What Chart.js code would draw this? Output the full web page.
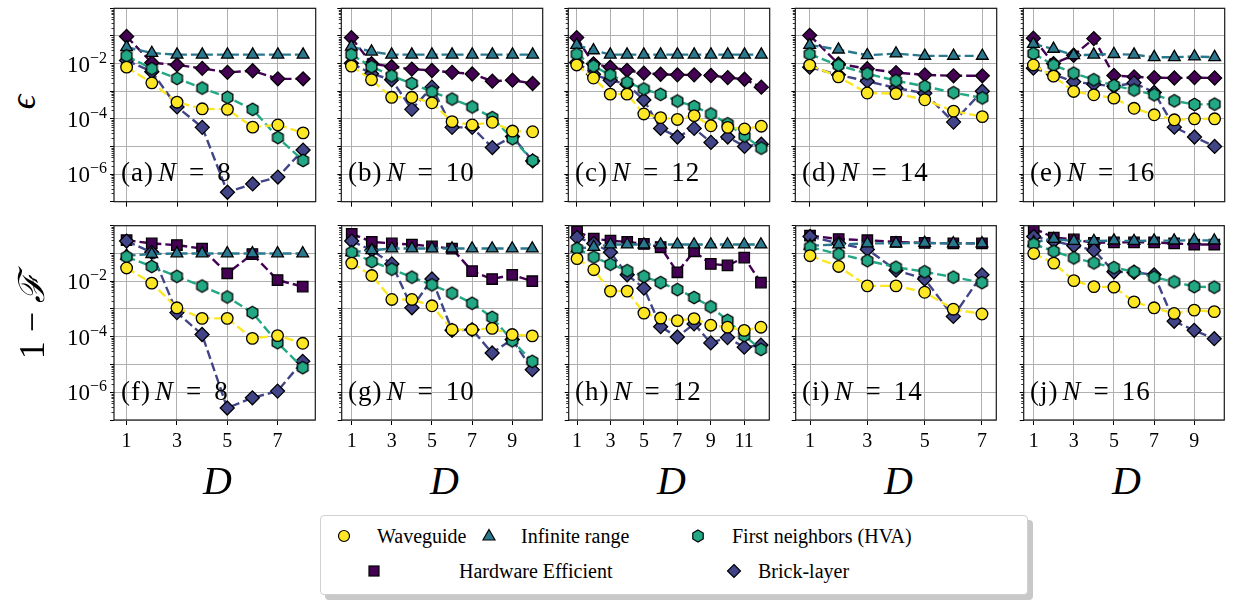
<!DOCTYPE html>
<html>
<head>
<meta charset="utf-8">
<script src="https://cdn.jsdelivr.net/npm/chart.js@4.4.1/dist/chart.umd.min.js"></script>
<style>
  body { margin: 0; width: 1242px; height: 602px; position: relative; overflow: hidden; background: #fff;
         font-family: "Liberation Serif", "DejaVu Serif", serif; color: #000; }
  canvas { position: absolute; }
  .txt { position: absolute; white-space: nowrap; line-height: 1; }
  .tag { font-size: 27px; letter-spacing: 1px; }
  .tag i { margin-left: 4px; }
  .tag .eq { margin: 0 12px 0 12px; }
  .dlab { font-size: 40px; font-style: italic; }
  .legend { position: absolute; left: 320px; top: 515px; width: 706px; height: 78px; background: #fff;
            border: 1px solid #d0d0d0; border-radius: 4px; }
  .shadow { position: absolute; left: 325px; top: 520px; width: 708px; height: 80px; background: #c8c8c8; border-radius: 4px; }
  .item { position: absolute; font-size: 20px; white-space: nowrap; }
  .item svg { position: absolute; }
</style>
</head>
<body>
<script>
const SERIES = ['Waveguide', 'Infinite range', 'First neighbors (HVA)', 'Hardware Efficient', 'Brick-layer'];
const COLORS = ['#fde725', '#2a788e', '#22a884', '#440154', '#414487'];
const systemSizes = [8, 10, 12, 14, 16];
const maxDepth = [8, 10, 12, 7, 10];
const lettersTop = ['a', 'b', 'c', 'd', 'e'];
const lettersBottom = ['f', 'g', 'h', 'i', 'j'];
const depthTicks = [1, 3, 5, 7, 9, 11];
const yLabelExps = [-2, -4, -6];

// epsilon (top row), one list per panel N = 8, 10, 12, 14, 16
const epsWaveguide = [
  [0.0074, 0.002, 4.0e-4, 2.3e-4, 2.2e-4, 5.0e-5, 6.0e-5, 3.1e-5],
  [0.0081, 0.0026, 6.0e-4, 6.0e-4, 3.8e-4, 7.9e-5, 6.0e-5, 7.5e-5, 3.6e-5, 3.4e-5],
  [0.0089, 0.003, 7.8e-4, 7.8e-4, 1.5e-4, 1.1e-4, 9.5e-5, 1.3e-4, 5.6e-5, 4.9e-5, 4.3e-5, 5.4e-5],
  [0.0088, 0.0033, 8.6e-4, 8.2e-4, 4.9e-4, 1.9e-4, 1.2e-4],
  [0.0089, 0.0035, 9.8e-4, 7.4e-4, 5.6e-4, 2.4e-4, 1.4e-4, 9.2e-5, 1.0e-4, 1.0e-4]
];
const epsInfinite = [
  [0.039, 0.024, 0.021, 0.021, 0.021, 0.021, 0.021, 0.021],
  [0.041, 0.027, 0.021, 0.021, 0.021, 0.021, 0.021, 0.021, 0.021, 0.021],
  [0.047, 0.030, 0.021, 0.021, 0.021, 0.021, 0.021, 0.021, 0.021, 0.021, 0.021, 0.021],
  [0.047, 0.032, 0.020, 0.023, 0.019, 0.019, 0.019],
  [0.051, 0.034, 0.020, 0.021, 0.022, 0.021, 0.017, 0.017, 0.018, 0.017]
];
const epsFirst = [
  [0.019, 0.0065, 0.0029, 0.0013, 6.0e-4, 2.2e-4, 2.1e-5, 3.1e-6],
  [0.021, 0.0077, 0.0036, 0.0019, 9.5e-4, 5.2e-4, 2.7e-4, 1.1e-4, 1.9e-5, 3.1e-6],
  [0.022, 0.0081, 0.0039, 0.0021, 0.0012, 7.7e-4, 4.4e-4, 2.8e-4, 1.5e-4, 6.6e-5, 2.4e-5, 8.7e-6],
  [0.022, 0.0087, 0.0043, 0.0024, 0.0015, 8.8e-4, 5.7e-4],
  [0.023, 0.0089, 0.0045, 0.0026, 0.0016, 0.0011, 7.4e-4, 4.5e-4, 3.3e-4, 3.4e-4]
];
const epsHardware = [
  [0.095, 0.0107, 0.0089, 0.0067, 0.0048, 0.0055, 0.0028, 0.0028],
  [0.087, 0.010, 0.0077, 0.0063, 0.0056, 0.0048, 0.0042, 0.0023, 0.0025, 0.0019],
  [0.087, 0.0098, 0.0074, 0.0057, 0.0045, 0.0041, 0.0039, 0.0039, 0.0037, 0.0031, 0.0027, 0.0014],
  [0.105, 0.0097, 0.0065, 0.0047, 0.0039, 0.0036, 0.0036],
  [0.083, 0.010, 0.020, 0.080, 0.0037, 0.0033, 0.0031, 0.0030, 0.0031, 0.0030]
];
const epsBrick = [
  [0.013, 0.0051, 2.7e-4, 4.9e-5, 2.2e-7, 4.4e-7, 7.8e-7, 7.4e-6],
  [0.0102, 0.0043, 0.0026, 2.2e-4, 1.4e-3, 4.9e-5, 4.9e-5, 9.1e-6, 2.3e-5, 3.0e-6],
  [0.011, 0.0041, 0.0025, 0.0018, 4.8e-4, 4.5e-5, 2.2e-5, 4.5e-5, 1.4e-5, 2.2e-5, 1.0e-5, 1.2e-5],
  [0.0074, 0.0039, 0.0023, 0.0013, 8.4e-4, 7.6e-5, 0.001],
  [0.0068, 0.004, 0.0022, 0.0018, 0.0015, 0.002, 9.0e-4, 5.0e-5, 2.2e-5, 1.0e-5]
];

// 1 - F (bottom row)
const infidWaveguide = [
  [0.030, 0.0085, 0.0011, 4.6e-4, 4.6e-4, 8.7e-5, 1.1e-4, 5.8e-5],
  [0.045, 0.016, 0.0022, 0.0022, 0.0013, 1.8e-4, 1.8e-4, 2.0e-4, 1.2e-4, 1.07e-4],
  [0.065, 0.026, 0.0044, 0.0044, 7.1e-4, 4.7e-4, 3.8e-4, 4.5e-4, 2.6e-4, 2.2e-4, 1.7e-4, 2.2e-4],
  [0.083, 0.034, 0.0068, 0.0068, 0.0040, 9.8e-4, 6.6e-4],
  [0.10, 0.045, 0.0105, 0.0064, 0.0061, 0.0018, 0.0011, 6.9e-4, 9.1e-4, 8.0e-4]
];
const infidInfinite = [
  [0.083, 0.095, 0.10, 0.10, 0.10, 0.10, 0.10, 0.10],
  [0.11, 0.13, 0.15, 0.15, 0.15, 0.15, 0.15, 0.15, 0.15, 0.15],
  [0.15, 0.17, 0.21, 0.21, 0.21, 0.21, 0.21, 0.21, 0.21, 0.21, 0.21, 0.21],
  [0.19, 0.21, 0.23, 0.23, 0.24, 0.23, 0.23],
  [0.25, 0.33, 0.28, 0.28, 0.29, 0.28, 0.29, 0.29, 0.30, 0.29]
];
const infidFirst = [
  [0.076, 0.034, 0.015, 0.0067, 0.0027, 7.4e-4, 6.1e-5, 7.7e-6],
  [0.11, 0.051, 0.027, 0.014, 0.0074, 0.0037, 0.0016, 5.0e-4, 7.2e-5, 1.3e-5],
  [0.15, 0.074, 0.041, 0.024, 0.015, 0.0089, 0.005, 0.0026, 0.0012, 3.9e-4, 1.1e-4, 3.5e-5],
  [0.17, 0.095, 0.055, 0.032, 0.022, 0.014, 0.0089],
  [0.22, 0.12, 0.069, 0.046, 0.031, 0.022, 0.014, 0.0095, 0.0064, 0.0061]
];
const infidHardware = [
  [0.30, 0.23, 0.20, 0.15, 0.019, 0.095, 0.011, 0.0064],
  [0.51, 0.26, 0.23, 0.21, 0.18, 0.15, 0.023, 0.012, 0.017, 0.010],
  [0.62, 0.34, 0.29, 0.26, 0.22, 0.17, 0.021, 0.12, 0.042, 0.037, 0.071, 0.0089],
  [0.44, 0.33, 0.30, 0.26, 0.24, 0.23, 0.23],
  [0.81, 0.37, 0.32, 0.24, 0.25, 0.25, 0.25, 0.23, 0.21, 0.21]
];
const infidBrick = [
  [0.28, 0.11, 7.4e-4, 1.2e-4, 2.7e-7, 6.3e-7, 1.1e-6, 1.3e-5],
  [0.28, 0.13, 0.042, 0.0011, 0.012, 1.7e-4, 1.8e-4, 2.6e-5, 8.0e-5, 6.5e-6],
  [0.38, 0.23, 0.11, 0.017, 0.0056, 2.3e-4, 9.8e-5, 2.9e-4, 6.0e-5, 9.3e-5, 4.2e-5, 5.0e-5],
  [0.41, 0.23, 0.14, 0.025, 0.012, 5.4e-4, 0.017],
  [0.41, 0.28, 0.19, 0.13, 0.022, 0.021, 0.017, 3.6e-4, 1.7e-4, 8.5e-5]
];

const epsSets = [epsWaveguide, epsInfinite, epsFirst, epsHardware, epsBrick];
const infidSets = [infidWaveguide, infidInfinite, infidFirst, infidHardware, infidBrick];

// layout
const colLeft = [114, 341, 568, 795, 1023];
const rowTop = [4, 221];
const panelW = 206;
const panelH = [198, 199];
const drawOrder = [0, 2, 1, 4, 3]; // lower = on top
const SERIF = '"Liberation Serif", "DejaVu Serif", serif';

function hexagonMarker(r, fill) {
  const c = document.createElement('canvas');
  const s = Math.ceil(2 * r + 4);
  c.width = s; c.height = s;
  const g = c.getContext('2d');
  g.beginPath();
  for (let k = 0; k < 6; k++) {
    const a = -Math.PI / 2 + k * Math.PI / 3;
    const px = s / 2 + r * Math.cos(a), py = s / 2 + r * Math.sin(a);
    if (k) g.lineTo(px, py); else g.moveTo(px, py);
  }
  g.closePath();
  g.fillStyle = fill; g.fill();
  g.lineWidth = 1.3; g.strokeStyle = '#000'; g.stroke();
  return c;
}
const hexImg = hexagonMarker(6.2, COLORS[2]);

function markerFor(s, row) {
  if (s === 0) return { pointStyle: 'circle', pointRadius: 5.8 };
  if (s === 1) return { pointStyle: 'triangle', pointRadius: 6.8 };
  if (s === 2) return { pointStyle: hexImg, pointRadius: 6 };
  if (s === 3) return row === 0 ? { pointStyle: 'rectRot', pointRadius: 7 } : { pointStyle: 'rect', pointRadius: 7.4 };
  return { pointStyle: 'rectRot', pointRadius: 7 };
}

const panelDecor = {
  id: 'panelDecor',
  afterDraw(chart, args, opts) {
    const ctx = chart.ctx, a = chart.chartArea, y = chart.scales.y;
    ctx.save();
    // minor log ticks
    ctx.strokeStyle = '#000';
    ctx.lineWidth = 0.8;
    for (let k = -7; k < 0; k++) {
      for (let m = 2; m <= 9; m++) {
        const py = Math.round(y.getPixelForValue(m * Math.pow(10, k))) + 0.5;
        ctx.beginPath(); ctx.moveTo(a.left - 2.5, py); ctx.lineTo(a.left, py); ctx.stroke();
      }
    }
    // frame
    ctx.lineWidth = 1.2;
    ctx.strokeStyle = '#1a1a1a';
    ctx.strokeRect(a.left, a.top, a.right - a.left, a.bottom - a.top);
    // y tick labels with superscripts
    if (opts.labels) {
      ctx.fillStyle = '#000';
      ctx.textBaseline = 'alphabetic';
      yLabelExps.forEach(e => {
        const py = y.getPixelForValue(Math.pow(10, e));
        ctx.font = '16px ' + SERIF;
        const sup = '\u2212' + (-e);
        const wSup = ctx.measureText(sup).width;
        const xr = a.left - 7;
        ctx.textAlign = 'right';
        ctx.fillText(sup, xr, py - 1);
        ctx.font = '23px ' + SERIF;
        ctx.fillText('10', xr - wSup, py + 8);
      });
    }
    ctx.restore();
  }
};

function makePanel(row, col) {
  const ml = col === 0 ? 66 : 8, mt = 4, mr = 4, mb = row === 0 ? 8 : 36;
  const H = panelH[row];
  const cv = document.createElement('canvas');
  cv.width = ml + panelW + mr;
  cv.height = mt + H + mb;
  cv.style.left = (colLeft[col] - ml) + 'px';
  cv.style.top = (rowTop[row] - mt) + 'px';
  document.body.appendChild(cv);

  const sets = row === 0 ? epsSets : infidSets;
  const datasets = SERIES.map((name, s) => Object.assign({
    label: name,
    data: sets[s][col].map((v, i) => ({ x: i + 1, y: v })),
    borderColor: COLORS[s],
    backgroundColor: COLORS[s],
    pointBackgroundColor: COLORS[s],
    pointBorderColor: '#000',
    pointBorderWidth: 1.3,
    borderWidth: 2.4,
    borderDash: [9, 4],
    tension: 0,
    order: drawOrder[s]
  }, markerFor(s, row)));

  const dmax = maxDepth[col];
  new Chart(cv, {
    type: 'line',
    data: { datasets },
    options: {
      responsive: false,
      animation: false,
      devicePixelRatio: 1,
      events: [],
      layout: { padding: { top: mt, right: mr, left: 0, bottom: 0 } },
      plugins: { legend: { display: false }, tooltip: { enabled: false }, panelDecor: { labels: col === 0 } },
      scales: {
        x: {
          type: 'linear',
          min: 0.5,
          max: dmax + 0.5,
          afterBuildTicks: s => { s.ticks = depthTicks.filter(v => v <= dmax).map(v => ({ value: v })); },
          afterFit: s => { s.height = mb; },
          border: { display: false },
          grid: { color: '#b0b0b0', lineWidth: 1, tickColor: '#000', tickLength: 5, drawTicks: true },
          ticks: { display: row === 1, color: '#000', font: { family: SERIF, size: 20 }, padding: 5, maxRotation: 0, autoSkip: false }
        },
        y: {
          type: 'logarithmic',
          min: 1e-7,
          max: 1,
          afterBuildTicks: s => { s.ticks = [-7, -6, -5, -4, -3, -2, -1, 0].map(e => ({ value: Math.pow(10, e) })); },
          afterFit: s => { s.width = ml; },
          border: { display: false },
          grid: { color: '#b0b0b0', lineWidth: 1, tickColor: '#000', tickLength: 4, drawTicks: true },
          ticks: { display: false }
        }
      }
    },
    plugins: [panelDecor]
  });
}

function addText(html, cls, left, top, style) {
  const d = document.createElement('div');
  d.className = 'txt ' + cls;
  d.innerHTML = html;
  d.style.left = left + 'px';
  d.style.top = top + 'px';
  if (style) Object.assign(d.style, style);
  document.body.appendChild(d);
  return d;
}

for (let row = 0; row < 2; row++) {
  for (let col = 0; col < 5; col++) {
    makePanel(row, col);
    const letter = row === 0 ? lettersTop[col] : lettersBottom[col];
    addText('(' + letter + ')<i>N</i><span class="eq">=</span>' + systemSizes[col], 'tag', colLeft[col] + 7, row === 0 ? 159 : 378);
  }
}
for (let col = 0; col < 5; col++) {
  addText('D', 'dlab', colLeft[col] + panelW / 2 - 14, 461);
}

// y axis titles
addText('<i>\u03f5</i>', 'txt', 16, 84, { fontSize: '36px', transform: 'rotate(-90deg)', transformOrigin: 'center' });
addText('1 \u2212 <i>\u2131</i>', 'txt', -24, 298, { fontSize: '36px', transform: 'rotate(-90deg)', transformOrigin: 'center', width: '112px', textAlign: 'center' });

// legend
const shadow = document.createElement('div'); shadow.className = 'shadow'; document.body.appendChild(shadow);
const leg = document.createElement('div'); leg.className = 'legend'; document.body.appendChild(leg);
const markerSvg = [
  '<circle cx="8" cy="8" r="5.5" fill="' + COLORS[0] + '" stroke="#000" stroke-width="1.2"/>',
  '<polygon points="8,1.5 14,12 2,12" fill="' + COLORS[1] + '" stroke="#000" stroke-width="1.2"/>',
  '<polygon points="8,2 13.2,5 13.2,11 8,14 2.8,11 2.8,5" fill="' + COLORS[2] + '" stroke="#000" stroke-width="1.2"/>',
  '<rect x="3" y="3" width="10" height="10" fill="' + COLORS[3] + '" stroke="#000" stroke-width="1.2"/>',
  '<polygon points="8,1.5 14.5,8 8,14.5 1.5,8" fill="' + COLORS[4] + '" stroke="#000" stroke-width="1.2"/>'
];
// [marker x, text x, center y] in page pixels
const legendPos = [[343, 376, 535], [488, 520, 535], [697, 731, 535], [373, 458, 570], [733, 757, 570]];
SERIES.forEach((name, s) => {
  const [mx, tx, cy] = legendPos[s];
  const it = document.createElement('div');
  it.className = 'item';
  it.style.left = (mx - 320 - 8) + 'px';
  it.style.top = (cy - 515 - 8) + 'px';
  it.innerHTML = '<svg width="16" height="16" style="left:0;top:0">' + markerSvg[s] + '</svg>' +
    '<span style="position:absolute;left:' + (tx - mx + 8) + 'px;top:-3px">' + name + '</span>';
  leg.appendChild(it);
});
</script>
</body>
</html>
